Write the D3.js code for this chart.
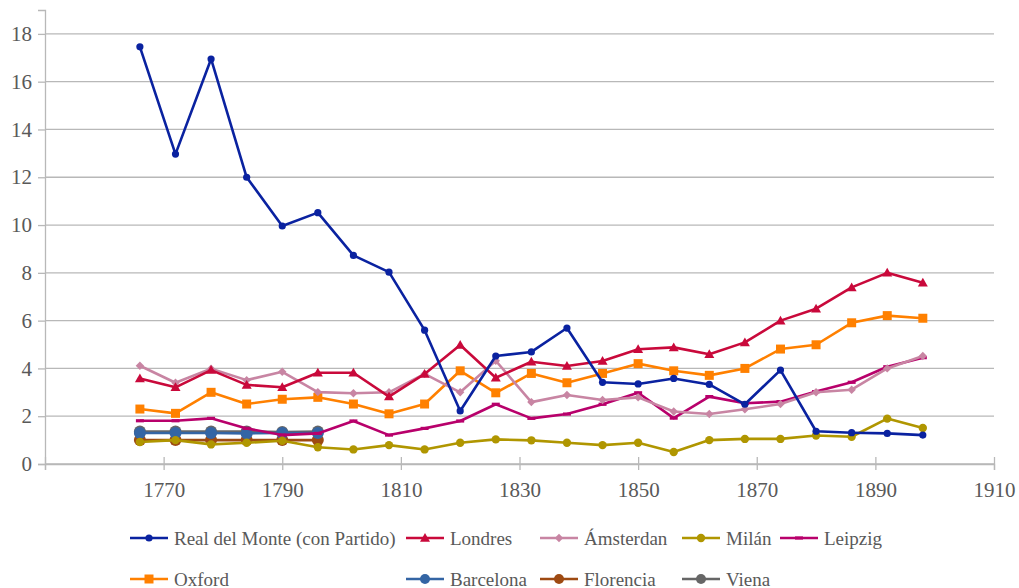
<!DOCTYPE html>
<html>
<head>
<meta charset="utf-8">
<script src="https://cdnjs.cloudflare.com/ajax/libs/d3/7.8.5/d3.min.js"></script>
<style>
  body { margin: 0; background: #fff; }
</style>
</head>
<body>
<div id="chart"></div>
<script>
var SVG_WIDTH = 1019;
var SVG_HEIGHT = 588;
var FONT = "'Liberation Serif', 'DejaVu Serif', serif";

// years of each observation
var years = [1766, 1772, 1778, 1784, 1790, 1796, 1802, 1808, 1814, 1820, 1826, 1832,
             1838, 1844, 1850, 1856, 1862, 1868, 1874, 1880, 1886, 1892, 1898];
var shortYears = [1766, 1772, 1778, 1784, 1790, 1796];

var realDelMonte = [17.46, 12.97, 16.95, 12.0, 9.96, 10.52, 8.73, 8.03, 5.6, 2.22, 4.52, 4.69,
                    5.69, 3.42, 3.35, 3.58, 3.33, 2.5, 3.93, 1.37, 1.31, 1.28, 1.21];
var londres = [3.58, 3.21, 3.93, 3.31, 3.21, 3.82, 3.82, 2.82, 3.77, 4.98, 3.61, 4.28,
               4.1, 4.31, 4.8, 4.88, 4.59, 5.09, 6.0, 6.5, 7.39, 8.0, 7.59];
var amsterdan = [4.11, 3.4, 3.99, 3.51, 3.86, 3.01, 2.96, 3.0, 3.77, 3.0, 4.32, 2.59,
                 2.89, 2.68, 2.79, 2.2, 2.09, 2.29, 2.51, 3.0, 3.11, 4.0, 4.52];
var milan = [0.92, 1.0, 0.82, 0.89, 0.97, 0.7, 0.61, 0.79, 0.61, 0.89, 1.03, 0.99,
             0.89, 0.79, 0.89, 0.5, 1.0, 1.05, 1.05, 1.19, 1.14, 1.9, 1.51];
var leipzig = [1.81, 1.81, 1.91, 1.49, 1.21, 1.28, 1.8, 1.21, 1.49, 1.8, 2.5, 1.91,
               2.09, 2.5, 2.98, 1.92, 2.82, 2.54, 2.61, 3.03, 3.42, 4.07, 4.45];
var oxford = [2.3, 2.12, 3.0, 2.51, 2.71, 2.79, 2.51, 2.1, 2.51, 3.9, 2.98, 3.79,
              3.4, 3.79, 4.2, 3.9, 3.71, 4.0, 4.81, 4.99, 5.91, 6.21, 6.1];
var barcelona = [1.3, 1.3, 1.3, 1.28, 1.3, 1.3];
var florencia = [1.0, 1.0, 1.0, 1.0, 1.0, 1.0];
var viena = [1.36, 1.36, 1.36, 1.36, 1.34, 1.36];

var xTicks = [1750, 1770, 1790, 1810, 1830, 1850, 1870, 1890, 1910];
var yTicks = [0, 2, 4, 6, 8, 10, 12, 14, 16, 18];

var series = [
  { name: 'Real del Monte (con Partido)', x: years, y: realDelMonte, color: '#0a22a0', marker: 'circle', size: 3.6 },
  { name: 'Londres', x: years, y: londres, color: '#c9093b', marker: 'triangle', size: 5 },
  { name: 'Ámsterdan', x: years, y: amsterdan, color: '#c885a3', marker: 'diamond', size: 4.2 },
  { name: 'Milán', x: years, y: milan, color: '#b09600', marker: 'circle', size: 4.2 },
  { name: 'Leipzig', x: years, y: leipzig, color: '#b8006b', marker: 'bar', size: 4 },
  { name: 'Oxford', x: years, y: oxford, color: '#ff8000', marker: 'square', size: 4.5 },
  { name: 'Barcelona', x: shortYears, y: barcelona, color: '#3465a4', marker: 'circle', size: 6 },
  { name: 'Florencia', x: shortYears, y: florencia, color: '#9e4a12', marker: 'circle', size: 6 },
  { name: 'Viena', x: shortYears, y: viena, color: '#666666', marker: 'circle', size: 6 }
];

var svg = d3.select('#chart').append('svg').attr('width', SVG_WIDTH).attr('height', SVG_HEIGHT);

var x = d3.scaleLinear().domain([1750, 1910]).range([45, 994]);
var y = d3.scaleLinear().domain([0, 19]).range([464, 10]);

var GRID = '#b8b8b8';

// horizontal grid
svg.append('g')
  .selectAll('line')
  .data(yTicks)
  .enter()
  .append('line')
  .attr('x1', x(1750)).attr('x2', x(1910))
  .attr('y1', function (d) { return y(d); })
  .attr('y2', function (d) { return y(d); })
  .attr('stroke', GRID).attr('stroke-width', 1.3);

// y axis
var yAxis = svg.append('g')
  .attr('transform', 'translate(' + x(1750) + ',0)')
  .call(d3.axisLeft(y).tickValues(yTicks).tickSize(7).tickPadding(6));
yAxis.attr('font-family', FONT);
yAxis.select('.domain').attr('stroke', GRID).attr('stroke-width', 1.3);
yAxis.selectAll('.tick line').attr('stroke', GRID).attr('stroke-width', 1.3);
yAxis.selectAll('.tick text').attr('font-size', 21).attr('fill', '#595959');

// x axis
var xAxis = svg.append('g')
  .attr('transform', 'translate(0,' + y(0) + ')')
  .call(d3.axisBottom(x).tickValues(xTicks).tickSize(6).tickPadding(12)
    .tickFormat(function (d) { return d === 1750 ? '' : d; }));
xAxis.attr('font-family', FONT);
xAxis.select('.domain').attr('stroke', GRID).attr('stroke-width', 1.3);
xAxis.selectAll('.tick line').attr('stroke', GRID).attr('stroke-width', 1.3).attr('y1', -7);
xAxis.selectAll('.tick text').attr('font-size', 21).attr('fill', '#595959');

function markerPath(type, s) {
  if (type === 'circle') return d3.symbol(d3.symbolCircle, Math.PI * s * s)();
  if (type === 'square') return 'M' + (-s) + ',' + (-s) + 'h' + (2 * s) + 'v' + (2 * s) + 'h' + (-2 * s) + 'Z';
  if (type === 'triangle') return 'M0,' + (-s) + 'L' + s + ',' + (s * 0.75) + 'L' + (-s) + ',' + (s * 0.75) + 'Z';
  if (type === 'diamond') return 'M0,' + (-s) + 'L' + s + ',0L0,' + s + 'L' + (-s) + ',0Z';
  if (type === 'bar') return 'M' + (-s) + ',-1.6h' + (2 * s) + 'v3.2h' + (-2 * s) + 'Z';
  return '';
}

var line = d3.line()
  .x(function (d) { return x(d[0]); })
  .y(function (d) { return y(d[1]); });

// draw last series first so Real del Monte lies on top
series.slice().reverse().forEach(function (s) {
  var pts = s.x.map(function (yr, i) { return [yr, s.y[i]]; });
  var g = svg.append('g');
  g.append('path')
    .datum(pts)
    .attr('d', line)
    .attr('fill', 'none')
    .attr('stroke', s.color)
    .attr('stroke-width', 2.6)
    .attr('stroke-linejoin', 'round');
  g.selectAll('path.mk')
    .data(pts)
    .enter()
    .append('path')
    .attr('class', 'mk')
    .attr('transform', function (d) { return 'translate(' + x(d[0]) + ',' + y(d[1]) + ')'; })
    .attr('d', markerPath(s.marker, s.size))
    .attr('fill', s.color);
});

// legend: two rows laid out in columns
var legendCols = [130, 406, 540, 682, 780];
var legendRows = [538, 579];
var legend = svg.append('g').attr('font-family', FONT);
series.forEach(function (s, i) {
  var row = i < 5 ? 0 : 1;
  var col = i < 5 ? i : i - 5;
  var item = legend.append('g').attr('transform', 'translate(' + legendCols[col] + ',' + legendRows[row] + ')');
  item.append('line')
    .attr('x1', 0).attr('x2', 38)
    .attr('stroke', s.color).attr('stroke-width', 2.6);
  item.append('path')
    .attr('transform', 'translate(19,0)')
    .attr('d', markerPath(s.marker, s.size > 5 ? 5 : s.size))
    .attr('fill', s.color);
  item.append('text')
    .attr('x', 44)
    .attr('y', 6.5)
    .attr('font-size', 19)
    .attr('fill', '#595959')
    .text(s.name);
});
</script>
</body>
</html>
